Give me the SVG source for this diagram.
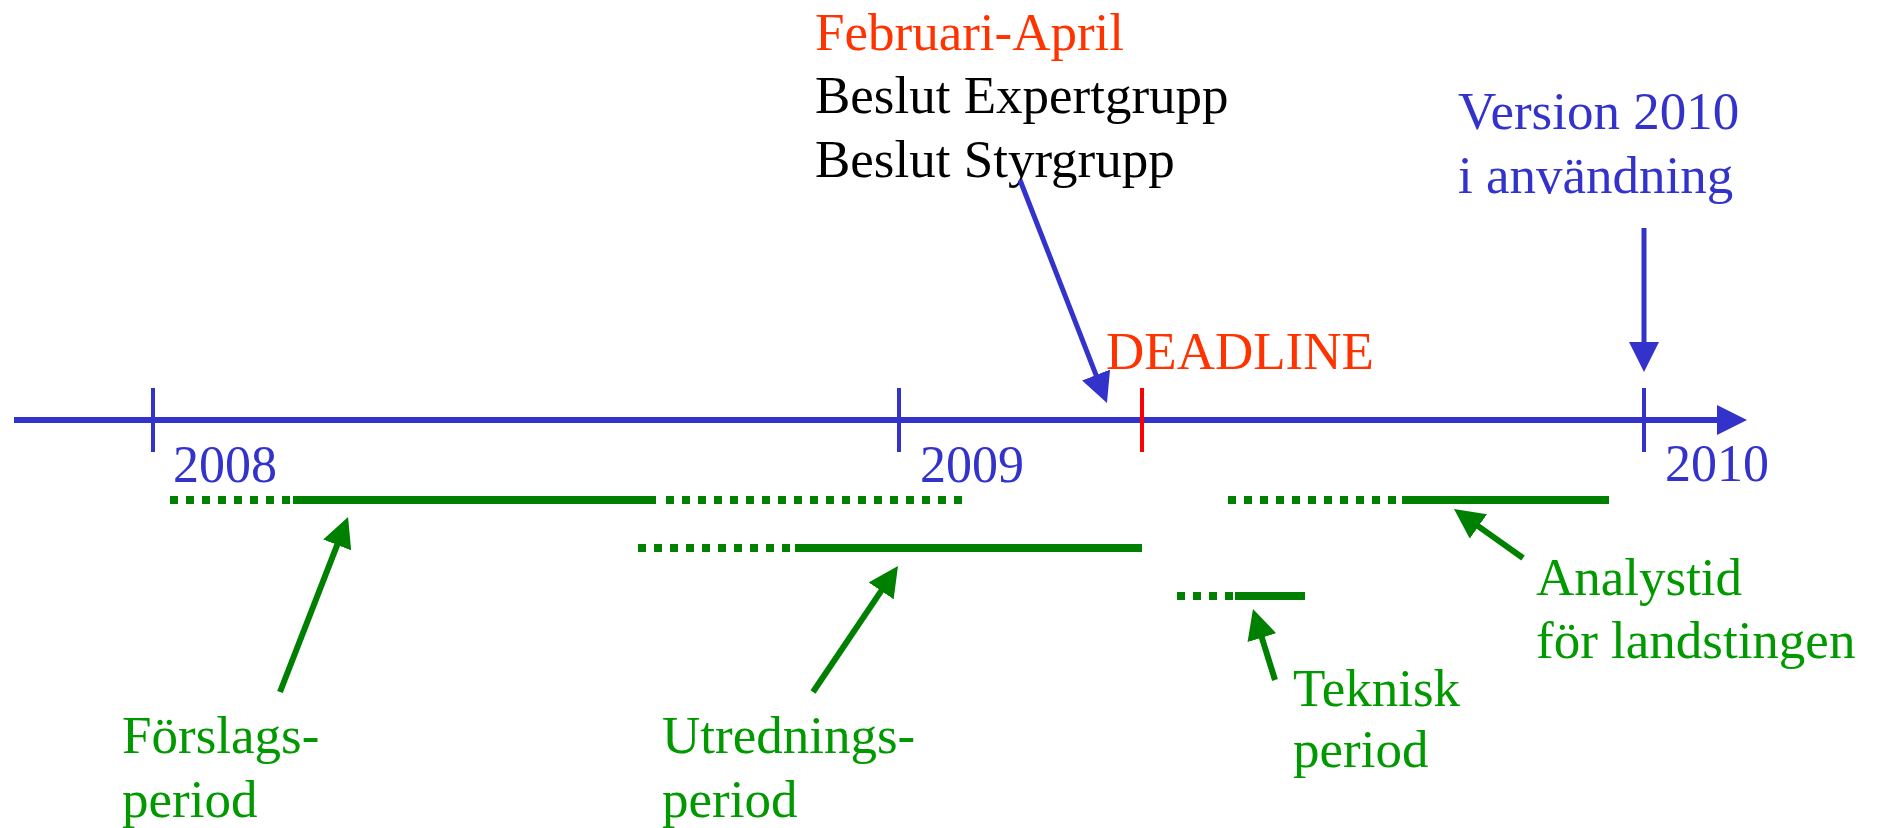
<svg xmlns="http://www.w3.org/2000/svg" width="1879" height="828" viewBox="0 0 1879 828">
<style>
text{font-family:"Liberation Serif","Times New Roman",serif;font-size:53px}
.blue{fill:#3333CC}
.red{fill:#FF3300}
.black{fill:#000000}
.green{fill:#009900}
.axis{stroke:#3333CC;stroke-width:6;fill:none}
.tick{stroke:#3333CC;stroke-width:4}
.rtick{stroke:#FF0000;stroke-width:4}
.barr{stroke:#3333CC;stroke-width:5;fill:none}
.garr{stroke:#008000;stroke-width:6;fill:none}
.solid{stroke:#008000;stroke-width:8}
.dash{stroke:#008000;stroke-width:8;stroke-dasharray:8 8}
</style>
<defs>
<marker id="hb" markerUnits="userSpaceOnUse" markerWidth="30" markerHeight="30" refX="10" refY="15" orient="auto" viewBox="0 0 30 30"><path d="M0,0 L30,15 L0,30 z" fill="#3333CC"/></marker>
<marker id="hg" markerUnits="userSpaceOnUse" markerWidth="30" markerHeight="30" refX="10" refY="15" orient="auto" viewBox="0 0 30 30"><path d="M0,0 L30,15 L0,30 z" fill="#008000"/></marker>
</defs>
<rect width="1879" height="828" fill="#ffffff"/>
<g id="timeline">
<line class="axis" x1="14" y1="420" x2="1727" y2="420" marker-end="url(#hb)"/>
<line class="tick" x1="153" y1="388" x2="153" y2="452"/>
<line class="tick" x1="899" y1="388" x2="899" y2="452"/>
<line class="rtick" x1="1142" y1="388" x2="1142" y2="452"/>
<line class="tick" x1="1644" y1="388" x2="1644" y2="452"/>
<text class="blue" x="173" y="482" style="font-size:52px">2008</text>
<text class="blue" x="920" y="482" style="font-size:52px">2009</text>
<text class="blue" x="1665" y="481" style="font-size:52px">2010</text>
</g>
<g id="deadline"><text class="red" x="1106" y="369">DEADLINE</text></g>
<g id="beslut">
<text class="red" x="815" y="50">Februari-April</text>
<text class="black" x="815" y="113">Beslut Expertgrupp</text>
<text class="black" x="815" y="177">Beslut Styrgrupp</text>
</g>
<g id="version">
<text class="blue" x="1458" y="129">Version 2010</text>
<text class="blue" x="1458" y="193">i användning</text>
</g>
<g id="forslag">
<line class="dash" x1="170" y1="500" x2="293" y2="500"/>
<line class="solid" x1="293" y1="500" x2="656" y2="500"/>
<line class="dash" x1="666" y1="500" x2="962" y2="500"/>
<text class="green" x="122" y="753">Förslags-</text>
<text class="green" x="122" y="817">period</text>
</g>
<g id="utredning">
<line class="dash" x1="638" y1="548" x2="795" y2="548"/>
<line class="solid" x1="795" y1="548" x2="1142" y2="548"/>
<text class="green" x="662" y="753">Utrednings-</text>
<text class="green" x="662" y="817">period</text>
</g>
<g id="teknisk">
<line class="dash" x1="1177" y1="596" x2="1235" y2="596"/>
<line class="solid" x1="1235" y1="596" x2="1305" y2="596"/>
<text class="green" x="1293" y="706">Teknisk</text>
<text class="green" x="1293" y="767">period</text>
</g>
<g id="analystid">
<line class="dash" x1="1228" y1="500" x2="1402" y2="500"/>
<line class="solid" x1="1402" y1="500" x2="1609" y2="500"/>
<text class="green" x="1536" y="595">Analystid</text>
<text class="green" x="1536" y="658">för landstingen</text>
</g>
<g id="connectors">
<line class="barr" x1="1020" y1="180" x2="1099.7" y2="384.3" marker-end="url(#hb)"/>
<line class="barr" x1="1644" y1="228" x2="1644" y2="352" marker-end="url(#hb)"/>
<line class="garr" x1="280" y1="692" x2="340.8" y2="535.6" marker-end="url(#hg)"/>
<line class="garr" x1="813" y1="692" x2="886.8" y2="582.6" marker-end="url(#hg)"/>
<line class="garr" x1="1275" y1="680" x2="1258.9" y2="628.1" marker-end="url(#hg)"/>
<line class="garr" x1="1523" y1="558" x2="1470.3" y2="520.6" marker-end="url(#hg)"/>
</g>
</svg>
